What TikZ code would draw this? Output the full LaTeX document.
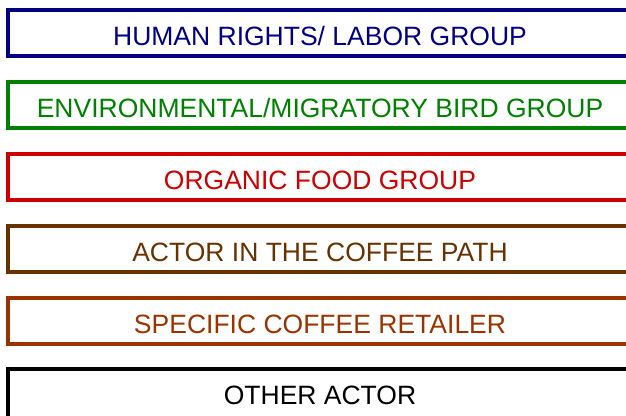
\documentclass[tikz,border=0pt]{standalone}
\usepackage{fontspec}
\setmainfont{Liberation Sans}
\usetikzlibrary{positioning}

\definecolor{labornavy}{HTML}{000080}
\definecolor{birdgreen}{HTML}{008000}
\definecolor{organicred}{HTML}{CC0000}
\definecolor{actorbrown}{HTML}{663300}
\definecolor{retailrust}{HTML}{993300}

\tikzset{
  legendbox/.style={draw=#1, text=#1, line width=4pt, rectangle,
    minimum width=624pt, minimum height=46pt, inner sep=0pt,
    text height=26pt, text depth=2pt,
    font=\fontsize{26.5}{28}\selectfont}
}

\begin{document}
\begin{tikzpicture}[x=1pt,y=1pt]
                % Fix the page size
                \useasboundingbox (0,0) rectangle (626,-415);
                \clip (0,0) rectangle (626,-415);

                % Legend entries, one box each
                \node[legendbox=labornavy] (labor) at (320,-33) {HUMAN RIGHTS/ LABOR GROUP};
                \node[legendbox=birdgreen] (bird) at (320,-105) {ENVIRONMENTAL/MIGRATORY BIRD GROUP};
                \node[legendbox=organicred] (organic) at (320,-177) {ORGANIC FOOD GROUP};
                \node[legendbox=actorbrown] (actor) at (320,-249) {ACTOR IN THE COFFEE PATH};
                \node[legendbox=retailrust] (retailer) at (320,-321) {SPECIFIC COFFEE RETAILER};
                % last box runs off the bottom
                \node[legendbox=black, minimum height=60pt, text height=13pt] (other) at (320,-399) {OTHER ACTOR};
\end{tikzpicture}
\end{document}
